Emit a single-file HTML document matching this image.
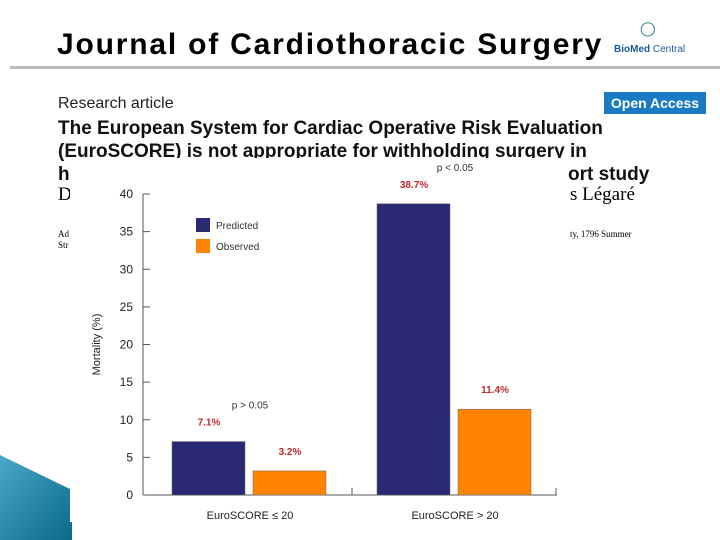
<!DOCTYPE html>
<html><head><meta charset="utf-8"><style>
body{margin:0;width:720px;height:540px;overflow:hidden;background:#fff;position:relative;font-family:"Liberation Sans",sans-serif}
.a{position:absolute;white-space:nowrap}
</style></head><body>
<div class="a" style="left:57px;top:28px;font-size:30px;font-weight:bold;letter-spacing:1.8px">Journal of Cardiothoracic Surgery</div>
<div class="a" style="left:640px;top:20px;font-size:14px;color:#1a7a7a;">◯</div>
<div class="a" style="left:614px;top:44px;font-size:10px;color:#1a5a9a"><b>BioMed</b> Central</div>
<div class="a" style="left:10px;top:66px;width:710px;height:3px;background:#bbb"></div>
<div class="a" style="left:58px;top:95px;font-size:16px;color:#222">Research article</div>
<div class="a" style="left:604px;top:92px;width:102px;height:22px;background:#1a7bc4;color:#fff;font-weight:bold;font-size:14px;line-height:22px;text-align:center">Open Access</div>
<div class="a" style="left:58px;top:117px;font-size:19px;font-weight:bold;line-height:23px;color:#111">The European System for Cardiac Operative Risk Evaluation<br>(EuroSCORE) is not appropriate for withholding surgery in<br>h</div>
<div class="a" style="left:568px;top:163px;font-size:19px;font-weight:bold;line-height:23px;color:#111">ort study</div>
<div class="a" style="left:58px;top:184px;font-family:'Liberation Serif',serif;font-size:19px">D</div>
<div class="a" style="left:570px;top:184px;font-family:'Liberation Serif',serif;font-size:19px">s Légaré</div>
<div class="a" style="left:58px;top:229px;font-family:'Liberation Serif',serif;font-size:9px;line-height:11px">Ad<br>Str</div>
<div class="a" style="left:570px;top:229px;font-family:'Liberation Serif',serif;font-size:9px">ty, 1796 Summer</div>
<svg class="a" style="left:0;top:455px" width="72" height="85">
<defs><linearGradient id="g" x1="0" x2="1" y1="0" y2="1"><stop offset="0" stop-color="#4aa8c8"/><stop offset="1" stop-color="#0a6a8a"/></linearGradient></defs>
<polygon points="0,0 72,35 72,85 0,85" fill="url(#g)"/></svg>
<svg id="chart" class="a" style="left:70px;top:158px" width="490" height="364"></svg>
<script>
const categories=["EuroSCORE \u2264 20","EuroSCORE > 20"];
const predicted=[7.1,38.7];
const observed=[3.2,11.4];
const valueLabels=[["7.1%","3.2%"],["38.7%","11.4%"]];
const pLabels=["p > 0.05","p < 0.05"];
const yTicks=[0,5,10,15,20,25,30,35,40];
const NS="http://www.w3.org/2000/svg";
const svg=document.getElementById('chart');
const ox=70,oy=158;
function y(v){return 495-v*7.525-oy;}
function gx(i){return 102+i*205-ox;}
function mk(t,a,txt){const e=document.createElementNS(NS,t);for(const k in a)e.setAttribute(k,a[k]);if(txt!==undefined)e.textContent=txt;svg.appendChild(e);return e;}
let e=mk('rect',{x:0,y:0,width:490,height:364,fill:'#fff'});

e=mk('line',{x1:143-ox,y1:y(0),x2:143-ox,y2:y(40),stroke:'#555'});

e=mk('line',{x1:143-ox,y1:y(0),x2:557-ox,y2:y(0),stroke:'#555'});

[352,556].forEach(px=>{const t=mk('line',{x1:px-ox,y1:y(0),x2:px-ox,y2:y(0)-7,stroke:'#555'});
});
yTicks.forEach(v=>{
const t=mk('line',{x1:143-ox,y1:y(v),x2:150-ox,y2:y(v),stroke:'#555'});

const l=mk('text',{x:133-ox,y:y(v)+4,'text-anchor':'end','font-size':12,fill:'#222'},v);
});
e=mk('text',{x:0,y:0,transform:`translate(${100-ox},${y(20)}) rotate(-90)`,'text-anchor':'middle','font-size':11,fill:'#222'},'Mortality (%)');

categories.forEach((c,i)=>{
const x0=gx(i)+70;
const b1=mk('rect',{x:x0,y:y(predicted[i]),width:73,height:y(0)-y(predicted[i]),fill:'#2a2a72',stroke:'#666','stroke-width':0.5});

const b2=mk('rect',{x:x0+81,y:y(observed[i]),width:73,height:y(0)-y(observed[i]),fill:'#ff8200',stroke:'#666','stroke-width':0.5});

const l1=mk('text',{x:x0+37,y:y(predicted[i])-16,'text-anchor':'middle','font-size':10,'font-weight':'bold',fill:'#c0282a'},valueLabels[i][0]);

const l2=mk('text',{x:x0+118,y:y(observed[i])-16,'text-anchor':'middle','font-size':10,'font-weight':'bold',fill:'#c0282a'},valueLabels[i][1]);

const p=mk('text',{x:x0+78,y:y(Math.max(predicted[i],observed[i]))-33,'text-anchor':'middle','font-size':10,fill:'#333'},pLabels[i]);

const cl=mk('text',{x:x0+78,y:y(0)+24,'text-anchor':'middle','font-size':11,fill:'#222'},c);
});
e=mk('rect',{x:196-ox,y:218-oy,width:14,height:14,fill:'#2a2a72'});

e=mk('text',{x:216-ox,y:229-oy,'font-size':10,fill:'#333'},'Predicted');

e=mk('rect',{x:196-ox,y:239-oy,width:14,height:14,fill:'#ff8200'});

e=mk('text',{x:216-ox,y:250-oy,'font-size':10,fill:'#333'},'Observed');

</script>
</body></html>
